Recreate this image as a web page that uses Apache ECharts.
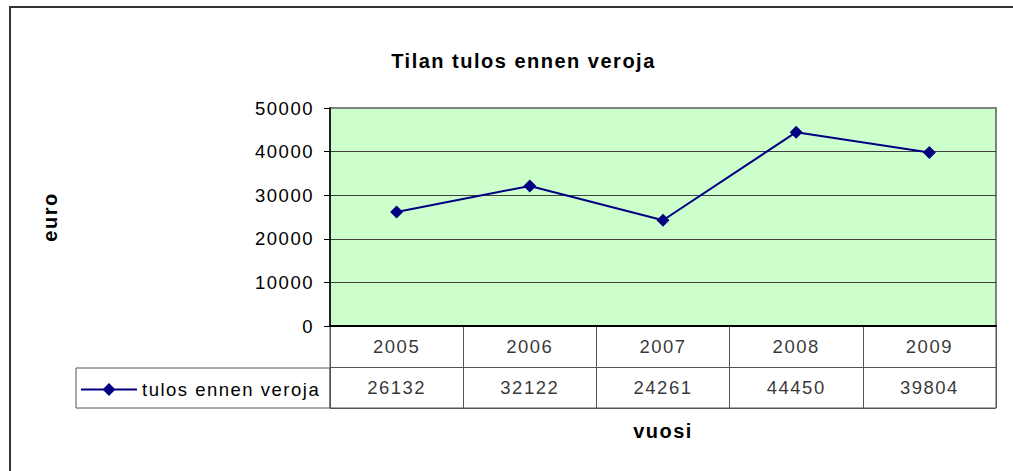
<!DOCTYPE html>
<html><head><meta charset="utf-8">
<script src="https://cdn.jsdelivr.net/npm/echarts@6/dist/echarts.min.js"></script>
<style>
html,body{margin:0;padding:0;background:#fff;}
#chart{width:1013px;height:471px;}
#chart text{letter-spacing:1.5px;}
</style></head><body><div id="chart"></div>
<script>
const titleText = 'Tilan tulos ennen veroja';
const categories = ['2005', '2006', '2007', '2008', '2009'];
const seriesName = 'tulos ennen veroja';
const values = [26132, 32122, 24261, 44450, 39804];
const yTicks = [0, 10000, 20000, 30000, 40000, 50000];
const tableRows = ['years', 'values'];
const xName = 'vuosi';
const yName = 'euro';

const FONT = "'Liberation Sans', Arial, sans-serif";
const chart = echarts.init(document.getElementById('chart'), null, {renderer: 'svg'});
chart.setOption({
  animation: false,
  backgroundColor: '#ffffff',
  textStyle: {fontFamily: FONT},
  title: {
    text: titleText, left: 523.5, top: 51, textAlign: 'center', padding: 0,
    textStyle: {fontFamily: FONT, fontWeight: 'bold', fontSize: 20, color: '#000'}
  },
  legend: {
    data: [seriesName], left: 80, top: 380, padding: 0, itemWidth: 56, itemHeight: 16,
    textStyle: {fontFamily: FONT, fontSize: 18.5, color: '#000'}
  },
  grid: [
    {left: 330, right: 17, top: 108, height: 218, show: true, backgroundColor: '#CCFFCC',
     borderColor: '#808080', borderWidth: 2, outerBoundsMode: 'none', containLabel: false},
    {left: 330, right: 17, top: 326, height: 82, show: true, backgroundColor: 'transparent',
     borderColor: '#555555', borderWidth: 1, outerBoundsMode: 'none', containLabel: false}
  ],
  xAxis: [
    {type: 'category', gridIndex: 0, data: categories, boundaryGap: true,
     axisLine: {show: true, lineStyle: {color: '#000', width: 2}},
     axisTick: {show: false}, axisLabel: {show: false}, splitLine: {show: false}},
    {type: 'category', gridIndex: 1, data: categories, boundaryGap: true,
     axisLine: {show: false}, axisTick: {show: false}, axisLabel: {show: false},
     splitLine: {show: true, interval: 0, lineStyle: {color: '#555555', width: 1}},
     name: xName, nameLocation: 'middle', nameGap: 13,
     nameTextStyle: {fontFamily: FONT, fontWeight: 'bold', fontSize: 20, color: '#000'}}
  ],
  yAxis: [
    {type: 'value', gridIndex: 0, min: yTicks[0], max: yTicks[yTicks.length - 1],
     interval: yTicks[1] - yTicks[0],
     axisLine: {show: true, lineStyle: {color: '#000', width: 1.5}},
     axisTick: {show: true, length: 6, inside: false, lineStyle: {color: '#000'}},
     axisLabel: {fontFamily: FONT, fontSize: 18.5, color: '#000', margin: 16,
                 formatter: v => String(v)},
     splitLine: {show: true, showMaxLine: false, lineStyle: {color: '#404040', width: 1}},
     name: yName, nameLocation: 'middle', nameRotate: 90, nameGap: 270,
     nameTextStyle: {fontFamily: FONT, fontWeight: 'bold', fontSize: 20, color: '#000'}},
    {type: 'category', gridIndex: 1, data: tableRows, inverse: true,
     axisLine: {show: false}, axisTick: {show: false}, axisLabel: {show: false},
     splitLine: {show: true, interval: 0, lineStyle: {color: '#555555', width: 1}}}
  ],
  series: [
    {name: seriesName, type: 'line', xAxisIndex: 0, yAxisIndex: 0, data: values,
     color: '#000080', symbol: 'diamond', symbolSize: 13, showSymbol: true,
     lineStyle: {color: '#000080', width: 2}, itemStyle: {color: '#000080'}},
    {name: 'years-row', type: 'scatter', xAxisIndex: 1, yAxisIndex: 1, silent: true,
     data: categories.map(c => [c, tableRows[0]]), symbolSize: 1,
     itemStyle: {color: 'rgba(0,0,0,0)'},
     label: {show: true, position: 'inside', formatter: p => p.value[0],
             fontFamily: FONT, fontSize: 18.5, color: '#000'}},
    {name: 'values-row', type: 'scatter', xAxisIndex: 1, yAxisIndex: 1, silent: true,
     data: values.map((v, i) => [categories[i], tableRows[1], v]), symbolSize: 1,
     itemStyle: {color: 'rgba(0,0,0,0)'},
     label: {show: true, position: 'inside', formatter: p => String(p.value[2]),
             fontFamily: FONT, fontSize: 18.5, color: '#000'}}
  ],
  graphic: [
    {type: 'rect', silent: true, shape: {x: 10, y: 7, width: 1030, height: 490},
     style: {fill: 'none', stroke: '#333333', lineWidth: 2}},
    {type: 'rect', silent: true, shape: {x: 76, y: 368, width: 254, height: 40},
     style: {fill: 'none', stroke: '#555555', lineWidth: 1}}
  ]
});
</script></body></html>
